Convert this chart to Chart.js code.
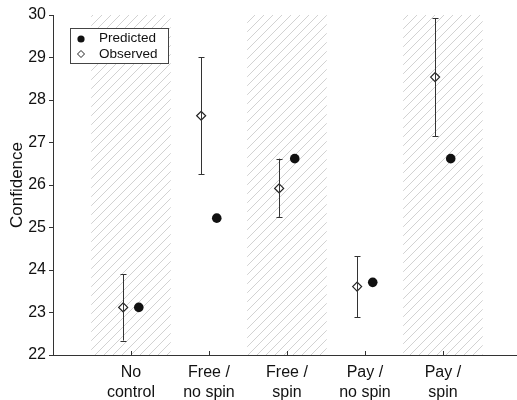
<!DOCTYPE html>
<html>
<head>
<meta charset="utf-8">
<script src="https://cdn.jsdelivr.net/npm/chart.js@4/dist/chart.umd.min.js"></script>
<style>
html,body{margin:0;padding:0;background:#fff;overflow:hidden;}
#wrap{width:517px;height:400px;position:relative;}
</style>
</head>
<body>
<div id="wrap"><canvas id="c" width="517" height="400"></canvas></div>
<script>
const categories = [['No','control'],['Free /','no spin'],['Free /','spin'],['Pay /','no spin'],['Pay /','spin']];
const categoryPositions = [1, 2, 3, 4, 5];
const hatched = [true, false, true, false, true];
const predicted = [23.12, 25.22, 26.62, 23.71, 26.62];
const observed = [23.12, 27.63, 25.92, 23.61, 28.54];
const observedLow = [22.34, 26.25, 25.25, 22.89, 27.15];
const observedHigh = [23.90, 29.01, 26.62, 24.32, 29.93];
const seriesNames = ['Predicted', 'Observed'];
const yAxisTitle = 'Confidence';
const yMin = 22, yMax = 30;

const FONT = "'Liberation Sans', Arial, Helvetica, sans-serif";
const AXIS = '#333';
const OFF = 0.1;
const BAND_HALF = 0.51;

function makePattern(ctx) {
  const s = 9;
  const c = document.createElement('canvas');
  c.width = s; c.height = s;
  const g = c.getContext('2d');
  g.strokeStyle = '#cdcdcd';
  g.lineWidth = 0.9;
  g.beginPath();
  g.moveTo(-1, s + 1); g.lineTo(s + 1, -1);
  g.moveTo(-1, 1); g.lineTo(1, -1);
  g.moveTo(s - 1, s + 1); g.lineTo(s + 1, s - 1);
  g.stroke();
  return ctx.createPattern(c, 'repeat');
}

const bandsPlugin = {
  id: 'bands',
  beforeDatasetsDraw(chart) {
    const ctx = chart.ctx, xs = chart.scales.x, ys = chart.scales.y;
    const pat = makePattern(ctx);
    ctx.save();
    categoryPositions.forEach((p, i) => {
      if (!hatched[i]) return;
      const x0 = xs.getPixelForValue(p - BAND_HALF), x1 = xs.getPixelForValue(p + BAND_HALF);
      const y0 = ys.getPixelForValue(yMax), y1 = ys.getPixelForValue(yMin);
      ctx.fillStyle = pat;
      ctx.fillRect(x0, y0, x1 - x0, y1 - y0);
    });
    ctx.restore();
  },
  afterDatasetsDraw(chart) {
    const ctx = chart.ctx, xs = chart.scales.x, ys = chart.scales.y;
    ctx.save();
    ctx.strokeStyle = AXIS;
    ctx.lineWidth = 1;
    categoryPositions.forEach((p, i) => {
      const x = Math.round(xs.getPixelForValue(p - OFF)) + 0.5;
      const yl = ys.getPixelForValue(observedLow[i]), yh = ys.getPixelForValue(observedHigh[i]);
      ctx.beginPath();
      ctx.moveTo(x, yl); ctx.lineTo(x, yh);
      ctx.moveTo(x - 3, Math.round(yl) + 0.5); ctx.lineTo(x + 3, Math.round(yl) + 0.5);
      ctx.moveTo(x - 3, Math.round(yh) + 0.5); ctx.lineTo(x + 3, Math.round(yh) + 0.5);
      ctx.stroke();
    });
    ctx.restore();
  },
  afterDraw(chart) {
    const ctx = chart.ctx, xs = chart.scales.x, ys = chart.scales.y;
    ctx.save();
    ctx.strokeStyle = AXIS; ctx.lineWidth = 1;
    const yb = ys.getPixelForValue(yMin);
    categoryPositions.forEach(p => {
      const x = Math.round(xs.getPixelForValue(p)) + 0.5;
      ctx.beginPath(); ctx.moveTo(x, yb); ctx.lineTo(x, yb - 4); ctx.stroke();
    });
    const lx = 70.5, ly = 28.5, lw = 98, lh = 35;
    ctx.fillStyle = '#fff';
    ctx.fillRect(lx, ly, lw, lh);
    ctx.strokeStyle = '#444';
    ctx.strokeRect(lx, ly, lw, lh);
    ctx.font = '13.5px ' + FONT;
    ctx.textBaseline = 'middle';
    ctx.fillStyle = '#111';
    ctx.beginPath(); ctx.arc(81, 39, 3.6, 0, Math.PI * 2); ctx.fill();
    ctx.fillText(seriesNames[0], 99, 38.5);
    ctx.beginPath();
    ctx.moveTo(81, 50.5); ctx.lineTo(84.5, 54); ctx.lineTo(81, 57.5); ctx.lineTo(77.5, 54); ctx.closePath();
    ctx.fillStyle = '#fff'; ctx.fill();
    ctx.strokeStyle = '#222'; ctx.lineWidth = 1; ctx.stroke();
    ctx.fillStyle = '#111';
    ctx.fillText(seriesNames[1], 99, 54.5);
    ctx.restore();
  }
};

new Chart(document.getElementById('c'), {
  type: 'scatter',
  data: {
    datasets: [
      {
        label: seriesNames[1],
        data: categoryPositions.map((p, i) => ({x: p - OFF, y: observed[i]})),
        pointStyle: 'rectRot',
        pointRadius: 4.5,
        backgroundColor: '#fff',
        borderColor: '#222',
        borderWidth: 1.2
      },
      {
        label: seriesNames[0],
        data: categoryPositions.map((p, i) => ({x: p + OFF, y: predicted[i]})),
        pointStyle: 'circle',
        pointRadius: 4.8,
        backgroundColor: '#111',
        borderColor: '#111',
        borderWidth: 0
      }
    ]
  },
  options: {
    responsive: false,
    animation: false,
    events: [],
    layout: {autoPadding: false, padding: {top: 15, right: 0, left: 0, bottom: 0}},
    plugins: {legend: {display: false}, tooltip: {enabled: false}},
    scales: {
      x: {
        type: 'linear',
        min: 0,
        max: 5.95,
        afterBuildTicks(scale) { scale.ticks = categoryPositions.map(v => ({value: v})); },
        afterFit(scale) { scale.height = 45; },
        ticks: {
          autoSkip: false,
          maxRotation: 0,
          padding: 8,
          color: '#111',
          font: {family: FONT, size: 16, lineHeight: 1.25},
          callback(v) { const i = categoryPositions.indexOf(v); return i >= 0 ? categories[i] : ''; }
        },
        grid: {display: true, drawOnChartArea: false, drawTicks: false},
        border: {display: true, color: AXIS, width: 1}
      },
      y: {
        min: yMin,
        max: yMax,
        afterFit(scale) { scale.width = 53; },
        ticks: {
          stepSize: 1,
          padding: 3,
          color: '#111',
          font: {family: FONT, size: 16}
        },
        grid: {display: true, drawOnChartArea: false, drawTicks: true, tickLength: 4, color: AXIS},
        border: {display: true, color: AXIS, width: 1},
        title: {
          display: true,
          text: yAxisTitle,
          color: '#111',
          font: {family: FONT, size: 17},
          padding: {top: 7, bottom: 0}
        }
      }
    }
  },
  plugins: [bandsPlugin]
});
</script>
</body>
</html>
